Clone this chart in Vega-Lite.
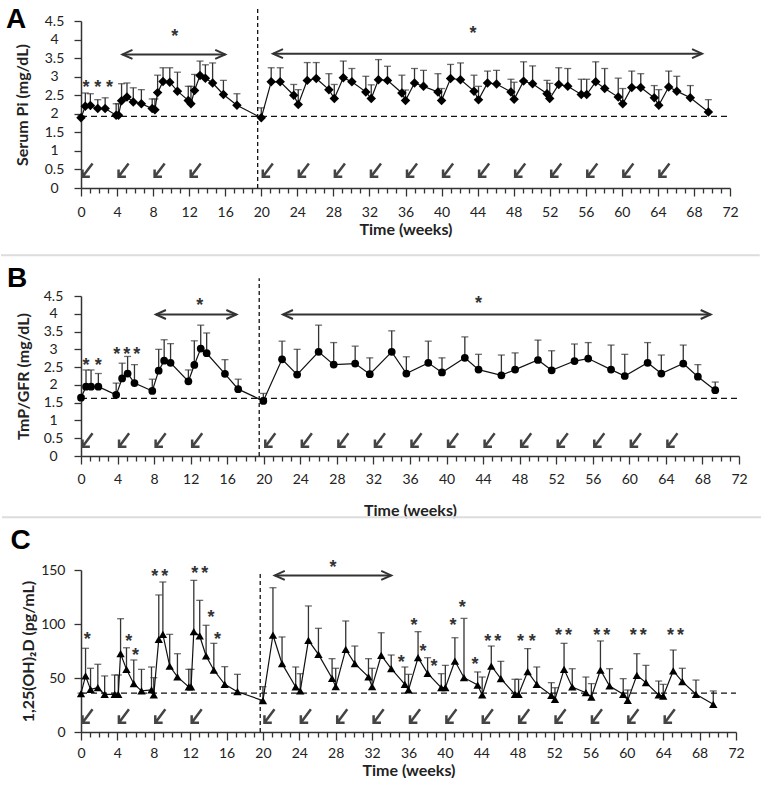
{
  "$schema": "https://vega.github.io/schema/vega-lite/v6.json",
  "padding": {"top": 6, "left": 0, "right": 0, "bottom": 0},
  "background": "white",
  "spacing": 8,
  "datasets": {
    "A": [
      {"w":0,"v":1.89,"e":1.95},{"w":0.48,"v":2.2,"e":2.56},{"w":1.04,"v":2.22,"e":2.54},{"w":1.86,"v":2.14,"e":2.38},{"w":2.68,"v":2.14,"e":2.43},
      {"w":3.9,"v":1.96,"e":2.27},{"w":4.16,"v":1.96,"e":2.27},{"w":4.5,"v":2.35,"e":2.81},{"w":5.1,"v":2.45,"e":2.83},{"w":5.8,"v":2.32,"e":2.7},
      {"w":6.7,"v":2.27,"e":2.65},{"w":7.9,"v":2.14,"e":2.4},{"w":8.2,"v":2.11,"e":2.4},{"w":8.5,"v":2.57,"e":3.04},{"w":9.1,"v":2.87,"e":3.24},
      {"w":9.85,"v":2.85,"e":3.24},{"w":10.7,"v":2.61,"e":3.12},{"w":11.9,"v":2.36,"e":2.74},{"w":12.2,"v":2.27,"e":2.74},{"w":12.6,"v":2.63,"e":3.06},
      {"w":13.2,"v":3.03,"e":3.42},{"w":13.8,"v":2.96,"e":3.32},{"w":14.6,"v":2.83,"e":3.37},{"w":15.8,"v":2.52,"e":2.9},{"w":17.3,"v":2.23,"e":2.54},
      {"w":20.0,"v":1.89,"e":2.16},{"w":21.1,"v":2.86,"e":3.24},{"w":22.1,"v":2.86,"e":3.24},{"w":23.6,"v":2.5,"e":2.79},{"w":24.1,"v":2.25,"e":2.65},
      {"w":25.1,"v":2.9,"e":3.38},{"w":26.1,"v":2.95,"e":3.38},{"w":27.5,"v":2.65,"e":3.08},{"w":28.1,"v":2.41,"e":2.79},{"w":29.1,"v":2.97,"e":3.42},
      {"w":30.05,"v":2.86,"e":3.22},{"w":31.6,"v":2.59,"e":3.01},{"w":32.2,"v":2.41,"e":2.78},{"w":33.0,"v":2.92,"e":3.46},{"w":34.0,"v":2.9,"e":3.28},
      {"w":35.6,"v":2.56,"e":3.04},{"w":36.0,"v":2.36,"e":2.64},{"w":37.0,"v":2.83,"e":3.22},{"w":38.0,"v":2.74,"e":3.17},{"w":39.6,"v":2.59,"e":3.08},
      {"w":40.0,"v":2.36,"e":2.68},{"w":41.0,"v":2.95,"e":3.33},{"w":42.1,"v":2.92,"e":3.37},{"w":43.6,"v":2.61,"e":3.04},{"w":44.1,"v":2.38,"e":2.74},
      {"w":45.1,"v":2.83,"e":3.15},{"w":46.1,"v":2.8,"e":3.17},{"w":47.7,"v":2.59,"e":2.93},{"w":48.05,"v":2.39,"e":2.85},{"w":49.1,"v":2.88,"e":3.4},
      {"w":50.1,"v":2.81,"e":3.29},{"w":51.7,"v":2.54,"e":2.9},{"w":52.0,"v":2.41,"e":2.82},{"w":53.0,"v":2.79,"e":3.24},{"w":54.0,"v":2.74,"e":3.22},
      {"w":55.5,"v":2.52,"e":2.93},{"w":56.1,"v":2.52,"e":2.93},{"w":57.1,"v":2.86,"e":3.4},{"w":58.1,"v":2.68,"e":3.22},{"w":59.6,"v":2.45,"e":2.96},
      {"w":60.1,"v":2.27,"e":2.68},{"w":61.1,"v":2.71,"e":3.15},{"w":62.1,"v":2.71,"e":3.08},{"w":63.6,"v":2.43,"e":2.76},{"w":64.1,"v":2.23,"e":2.65},
      {"w":65.2,"v":2.72,"e":3.15},{"w":66.1,"v":2.61,"e":3.01},{"w":67.6,"v":2.43,"e":2.76},{"w":69.6,"v":2.05,"e":2.38}
    ],
    "B": [
      {"w":0,"v":1.64,"e":1.68},{"w":0.55,"v":1.95,"e":2.42},{"w":1.1,"v":1.95,"e":2.42},{"w":1.9,"v":1.95,"e":2.32},{"w":3.85,"v":1.72,"e":2.05},
      {"w":4.5,"v":2.18,"e":2.61},{"w":5.1,"v":2.32,"e":2.8},{"w":5.85,"v":2.05,"e":2.57},{"w":7.8,"v":1.83,"e":2.16},{"w":8.5,"v":2.4,"e":3.0},
      {"w":9.1,"v":2.68,"e":3.27},{"w":9.8,"v":2.62,"e":3.16},{"w":11.75,"v":2.1,"e":2.42},{"w":12.4,"v":2.56,"e":3.24},{"w":13.1,"v":3.02,"e":3.68},
      {"w":13.75,"v":2.89,"e":3.46},{"w":15.75,"v":2.31,"e":2.71},{"w":17.2,"v":1.88,"e":2.16},{"w":19.95,"v":1.55,"e":1.76},{"w":22.0,"v":2.72,"e":3.23},
      {"w":23.65,"v":2.29,"e":3.0},{"w":26.0,"v":2.93,"e":3.68},{"w":27.65,"v":2.57,"e":3.19},{"w":30.0,"v":2.6,"e":3.09},{"w":31.6,"v":2.3,"e":2.76},
      {"w":34.0,"v":2.93,"e":3.52},{"w":35.6,"v":2.32,"e":2.79},{"w":38.0,"v":2.62,"e":3.23},{"w":39.5,"v":2.35,"e":2.76},{"w":42.0,"v":2.76,"e":3.35},
      {"w":43.5,"v":2.43,"e":2.86},{"w":46.0,"v":2.27,"e":2.84},{"w":47.5,"v":2.43,"e":2.9},{"w":50.0,"v":2.7,"e":3.26},{"w":51.5,"v":2.41,"e":2.96},
      {"w":54.0,"v":2.67,"e":3.15},{"w":55.5,"v":2.74,"e":3.19},{"w":58.0,"v":2.43,"e":3.12},{"w":59.5,"v":2.25,"e":2.86},{"w":62.0,"v":2.62,"e":3.19},
      {"w":63.5,"v":2.32,"e":2.84},{"w":65.9,"v":2.6,"e":3.12},{"w":67.5,"v":2.23,"e":2.57},{"w":69.4,"v":1.85,"e":2.08}
    ],
    "C": [
      {"w":0,"v":35.5,"e":36},{"w":0.5,"v":51.9,"e":77.5},{"w":1.05,"v":39.5,"e":59},{"w":1.85,"v":41,"e":62.7},{"w":2.6,"v":34.9,"e":51.9},
      {"w":3.7,"v":34.9,"e":52.8},{"w":4.1,"v":34.9,"e":52.8},{"w":4.35,"v":72.5,"e":104.9},{"w":5.0,"v":58,"e":78},{"w":5.8,"v":44.7,"e":66.7},
      {"w":6.65,"v":38,"e":58},{"w":7.75,"v":38.9,"e":60.2},{"w":8.0,"v":34.3,"e":50.3},{"w":8.55,"v":85.8,"e":126.9},{"w":9.0,"v":90.4,"e":138.9},
      {"w":9.75,"v":61,"e":90.4},{"w":10.6,"v":51,"e":72.5},{"w":11.85,"v":41.7,"e":58},{"w":12.1,"v":41.7,"e":58},{"w":12.4,"v":92.9,"e":140.4},
      {"w":13.05,"v":88.9,"e":121.9},{"w":13.75,"v":70.4,"e":98.8},{"w":14.6,"v":57.4,"e":82.1},{"w":15.8,"v":44.1,"e":60.5},{"w":17.2,"v":37.3,"e":53.4},
      {"w":20.0,"v":29,"e":42},{"w":21.1,"v":89.8,"e":133.6},{"w":22.1,"v":63.3,"e":88},{"w":23.6,"v":41.7,"e":60.2},{"w":24.1,"v":38,"e":54},
      {"w":25.0,"v":84.9,"e":116.7},{"w":26.1,"v":71.9,"e":96},{"w":27.6,"v":49.7,"e":67.9},{"w":28.0,"v":42,"e":59},{"w":29.1,"v":76.5,"e":102.8},
      {"w":30.1,"v":63.3,"e":79.6},{"w":31.6,"v":51,"e":67.9},{"w":32.0,"v":42,"e":59},{"w":33.0,"v":71,"e":91.9},{"w":34.1,"v":58.6,"e":71.3},
      {"w":35.6,"v":44.1,"e":60.2},{"w":36.0,"v":38.9,"e":53.4},{"w":37.05,"v":68.8,"e":92.9},{"w":38.1,"v":54.3,"e":68.8},{"w":39.6,"v":41,"e":54},
      {"w":40.05,"v":41,"e":61.7},{"w":41.1,"v":65.7,"e":87.3},{"w":42.1,"v":50.3,"e":105.2},{"w":43.6,"v":43.5,"e":55.6},{"w":44.1,"v":34.3,"e":50.9},
      {"w":45.1,"v":61.1,"e":79.6},{"w":46.15,"v":49.4,"e":65.4},{"w":47.7,"v":34.9,"e":48.8},{"w":48.1,"v":34.9,"e":48.8},{"w":49.1,"v":55.9,"e":77.2},
      {"w":50.1,"v":44.1,"e":60.2},{"w":51.7,"v":34,"e":45.7},{"w":52.1,"v":30.2,"e":41},{"w":53.1,"v":58,"e":82.1},{"w":54.0,"v":41.7,"e":58.6},
      {"w":55.5,"v":36.4,"e":50.9},{"w":56.1,"v":32.4,"e":44.8},{"w":57.1,"v":57.4,"e":84.3},{"w":58.1,"v":42.6,"e":58.6},{"w":59.6,"v":34.9,"e":49.4},
      {"w":60.1,"v":29.3,"e":38.9},{"w":61.1,"v":52.5,"e":72.5},{"w":62.1,"v":45.7,"e":61.7},{"w":63.5,"v":34.3,"e":47.2},{"w":64.0,"v":33.3,"e":44.1},
      {"w":65.1,"v":56.5,"e":75.9},{"w":66.1,"v":46.6,"e":59},{"w":67.6,"v":34.9,"e":48.1},{"w":69.5,"v":25.6,"e":38}
    ],
    "starA": [{"w":0.56,"v":2.81},{"w":1.86,"v":2.81},{"w":3.15,"v":2.81},{"w":10.4,"v":4.17},{"w":43.5,"v":4.27}],
    "starB": [{"w":0.55,"v":2.65},{"w":1.9,"v":2.65},{"w":3.9,"v":2.96},{"w":5.0,"v":2.96},{"w":6.1,"v":2.96},{"w":13.0,"v":4.32},{"w":43.5,"v":4.4}],
    "starC": [
      {"w":0.68,"v":88.9},{"w":5.25,"v":86.7},{"w":6.0,"v":74},{"w":8.1,"v":147},{"w":9.2,"v":147},{"w":12.5,"v":149.7},{"w":13.6,"v":149.7},
      {"w":14.3,"v":109.5},{"w":15.0,"v":88.9},{"w":27.7,"v":155.9},{"w":35.2,"v":67.3},{"w":36.6,"v":101.9},{"w":37.6,"v":77.5},{"w":38.8,"v":64.2},
      {"w":40.9,"v":101.9},{"w":41.9,"v":118.2},{"w":43.3,"v":65.7},{"w":44.7,"v":87.3},{"w":45.8,"v":87.3},{"w":48.3,"v":87.3},{"w":49.6,"v":87.3},
      {"w":52.5,"v":92.6},{"w":53.6,"v":92.6},{"w":56.7,"v":92.6},{"w":57.8,"v":92.6},{"w":60.7,"v":92.6},{"w":61.8,"v":92.6},{"w":64.8,"v":92.6},{"w":65.9,"v":92.6}
    ],
    "arrA": [{"a":4.6,"b":16.0,"y":3.6},{"a":21.3,"b":68.9,"y":3.62}],
    "arrB": [{"a":8.2,"b":17.0,"y":3.98},{"a":22.1,"b":68.9,"y":3.98}],
    "arrC": [{"a":21.3,"b":34.1,"y":145}],
    "inj": [{"w":0},{"w":4},{"w":8},{"w":12},{"w":20},{"w":24},{"w":28},{"w":32},{"w":36},{"w":40},{"w":44},{"w":48},{"w":52},{"w":56},{"w":60},{"w":64}]
  },
  "config": {
    "view": {"stroke": null},
    "axis": {"labelFont": "Lato", "labelFontSize": 14, "labelColor": "#222", "titleFont": "Lato", "titleFontSize": 16, "titleFontWeight": "bold", "titleColor": "#222", "domainColor": "#333", "tickColor": "#333", "grid": false, "domainWidth": 1.5, "tickWidth": 1.3, "labelOverlap": false, "labelFlush": false, "tickCount": 200}
  },
  "vconcat": [
    {
      "width": 649, "height": 167,
      "layer": [
        {"data": {"name": "A"}, "mark": {"type": "rule", "color": "#333", "strokeWidth": 1.3},
         "encoding": {
           "x": {"field": "w", "type": "quantitative", "scale": {"domain": [0, 72], "nice": false},
                 "axis": {"title": "Time (weeks)", "tickCount": 200, "format": "~g", "values": [0,1,2,3,4,5,6,7,8,9,10,11,12,13,14,15,16,17,18,19,20,21,22,23,24,25,26,27,28,29,30,31,32,33,34,35,36,37,38,39,40,41,42,43,44,45,46,47,48,49,50,51,52,53,54,55,56,57,58,59,60,61,62,63,64,65,66,67,68,69,70,71,72],
                          "labelOverlap": false, "labelExpr": "datum.value % 4 === 0 ? datum.label : ''", "tickSize": {"condition": {"test": "datum.value % 4 === 0", "value": 8}, "value": 5}, "labelPadding": 9, "titlePadding": 2}},
           "y": {"field": "v", "type": "quantitative", "scale": {"domain": [0, 4.5], "nice": false},
                 "axis": {"title": "Serum Pi (mg/dL)", "tickCount": 200, "values": [0,0.5,1,1.5,2,2.5,3,3.5,4,4.5], "labelOverlap": false, "format": "~g", "labelAlign": "center", "tickSize": 7, "labelPadding": 20, "titlePadding": 14}},
           "y2": {"field": "e"}}},
        {"data": {"values": [{}]}, "mark": {"type": "rule", "color": "#dcdcdc", "strokeWidth": 2},
         "encoding": {"x": {"datum": -8.875}, "x2": {"datum": 75.3}, "y": {"datum": -1.81}}},
        {"data": {"values": [{}]}, "mark": {"type": "text", "text": "A", "font": "Liberation Sans", "fontSize": 28, "fontWeight": "bold", "color": "#000", "align": "left", "baseline": "alphabetic"},
         "encoding": {"x": {"datum": -8.32}, "y": {"datum": 4.3}}},
        {"data": {"name": "A"}, "mark": {"type": "tick", "orient": "horizontal", "size": 7, "thickness": 1.3, "color": "#333"},
         "encoding": {"x": {"field": "w", "type": "quantitative"}, "y": {"field": "e", "type": "quantitative"}}},
        {"data": {"values": [{}]}, "mark": {"type": "rule", "strokeDash": [6, 4], "color": "#111", "strokeWidth": 1.3},
         "encoding": {"x": {"datum": 0}, "x2": {"datum": 72}, "y": {"datum": 1.93}}},
        {"data": {"values": [{}]}, "mark": {"type": "rule", "strokeDash": [4, 3], "color": "#111", "strokeWidth": 1.3},
         "encoding": {"x": {"datum": 19.6}, "y": {"datum": 0}, "y2": {"datum": 4.85}}},
        {"data": {"name": "A"}, "mark": {"type": "line", "color": "#111", "strokeWidth": 1.2},
         "encoding": {"x": {"field": "w", "type": "quantitative"}, "y": {"field": "v", "type": "quantitative"}}},
        {"data": {"name": "A"}, "mark": {"type": "point", "shape": "diamond", "filled": true, "size": 90, "color": "#000", "opacity": 1},
         "encoding": {"x": {"field": "w", "type": "quantitative"}, "y": {"field": "v", "type": "quantitative"}}},
        {"data": {"name": "arrA"}, "mark": {"type": "rule", "color": "#333", "strokeWidth": 2},
         "encoding": {"x": {"field": "a", "type": "quantitative"}, "x2": {"field": "b"}, "y": {"field": "y", "type": "quantitative"}}},
        {"data": {"name": "arrA"}, "mark": {"type": "point", "shape": "M 1 -0.45 L 0 0 L 1 0.45", "size": 400, "color": "#333", "strokeWidth": 2, "opacity": 1},
         "encoding": {"x": {"field": "a", "type": "quantitative"}, "y": {"field": "y", "type": "quantitative"}}},
        {"data": {"name": "arrA"}, "mark": {"type": "point", "shape": "M -1 -0.45 L 0 0 L -1 0.45", "size": 400, "color": "#333", "strokeWidth": 2, "opacity": 1},
         "encoding": {"x": {"field": "b", "type": "quantitative"}, "y": {"field": "y", "type": "quantitative"}}},
        {"data": {"name": "starA"}, "mark": {"type": "text", "text": "*", "font": "Liberation Sans", "fontSize": 18, "fontWeight": "bold", "color": "#333", "baseline": "middle", "dy": 4},
         "encoding": {"x": {"field": "w", "type": "quantitative"}, "y": {"field": "v", "type": "quantitative"}}},
        {"data": {"name": "inj"}, "mark": {"type": "point", "shape": "M 0.75 -1 L 0 0 M 0 -0.55 L 0 0 L 0.55 0", "size": 718, "color": "#444", "strokeWidth": 2.5, "opacity": 1, "xOffset": 1.5},
         "encoding": {"x": {"field": "w", "type": "quantitative"}, "y": {"datum": 0.3}}}
      ]
    },
    {
      "width": 658, "height": 160,
      "layer": [
        {"data": {"name": "B"}, "mark": {"type": "rule", "color": "#333", "strokeWidth": 1.3},
         "encoding": {
           "x": {"field": "w", "type": "quantitative", "scale": {"domain": [0, 72], "nice": false},
                 "axis": {"title": "Time (weeks)", "tickCount": 200, "format": "~g", "values": [0,1,2,3,4,5,6,7,8,9,10,11,12,13,14,15,16,17,18,19,20,21,22,23,24,25,26,27,28,29,30,31,32,33,34,35,36,37,38,39,40,41,42,43,44,45,46,47,48,49,50,51,52,53,54,55,56,57,58,59,60,61,62,63,64,65,66,67,68,69,70,71,72],
                          "labelOverlap": false, "labelExpr": "datum.value % 4 === 0 ? datum.label : ''", "tickSize": {"condition": {"test": "datum.value % 4 === 0", "value": 8}, "value": 5}, "labelPadding": 8, "titlePadding": 16}},
           "y": {"field": "v", "type": "quantitative", "scale": {"domain": [0, 4.5], "nice": false},
                 "axis": {"title": "TmP/GFR (mg/dL)", "tickCount": 200, "values": [0,0.5,1,1.5,2,2.5,3,3.5,4,4.5], "labelOverlap": false, "format": "~g", "labelAlign": "center", "tickSize": 7, "labelPadding": 21, "titlePadding": 12}},
           "y2": {"field": "e"}}},
        {"data": {"values": [{}]}, "mark": {"type": "rule", "color": "#dcdcdc", "strokeWidth": 2},
         "encoding": {"x": {"datum": -8.64}, "x2": {"datum": 74.4}, "y": {"datum": -1.72}}},
        {"data": {"values": [{}]}, "mark": {"type": "text", "text": "B", "font": "Liberation Sans", "fontSize": 28, "fontWeight": "bold", "color": "#000", "align": "left", "baseline": "alphabetic"},
         "encoding": {"x": {"datum": -8.1}, "y": {"datum": 4.75}}},
        {"data": {"name": "B"}, "mark": {"type": "tick", "orient": "horizontal", "size": 7, "thickness": 1.3, "color": "#333"},
         "encoding": {"x": {"field": "w", "type": "quantitative"}, "y": {"field": "e", "type": "quantitative"}}},
        {"data": {"values": [{}]}, "mark": {"type": "rule", "strokeDash": [6, 4], "color": "#111", "strokeWidth": 1.3},
         "encoding": {"x": {"datum": 0}, "x2": {"datum": 72}, "y": {"datum": 1.62}}},
        {"data": {"values": [{}]}, "mark": {"type": "rule", "strokeDash": [4, 3], "color": "#111", "strokeWidth": 1.3},
         "encoding": {"x": {"datum": 19.5}, "y": {"datum": 0}, "y2": {"datum": 5.0}}},
        {"data": {"name": "B"}, "mark": {"type": "line", "color": "#111", "strokeWidth": 1.2},
         "encoding": {"x": {"field": "w", "type": "quantitative"}, "y": {"field": "v", "type": "quantitative"}}},
        {"data": {"name": "B"}, "mark": {"type": "point", "shape": "circle", "filled": true, "size": 60, "color": "#000", "opacity": 1},
         "encoding": {"x": {"field": "w", "type": "quantitative"}, "y": {"field": "v", "type": "quantitative"}}},
        {"data": {"name": "arrB"}, "mark": {"type": "rule", "color": "#333", "strokeWidth": 2},
         "encoding": {"x": {"field": "a", "type": "quantitative"}, "x2": {"field": "b"}, "y": {"field": "y", "type": "quantitative"}}},
        {"data": {"name": "arrB"}, "mark": {"type": "point", "shape": "M 1 -0.45 L 0 0 L 1 0.45", "size": 400, "color": "#333", "strokeWidth": 2, "opacity": 1},
         "encoding": {"x": {"field": "a", "type": "quantitative"}, "y": {"field": "y", "type": "quantitative"}}},
        {"data": {"name": "arrB"}, "mark": {"type": "point", "shape": "M -1 -0.45 L 0 0 L -1 0.45", "size": 400, "color": "#333", "strokeWidth": 2, "opacity": 1},
         "encoding": {"x": {"field": "b", "type": "quantitative"}, "y": {"field": "y", "type": "quantitative"}}},
        {"data": {"name": "starB"}, "mark": {"type": "text", "text": "*", "font": "Liberation Sans", "fontSize": 18, "fontWeight": "bold", "color": "#333", "baseline": "middle", "dy": 4},
         "encoding": {"x": {"field": "w", "type": "quantitative"}, "y": {"field": "v", "type": "quantitative"}}},
        {"data": {"name": "inj"}, "mark": {"type": "point", "shape": "M 0.75 -1 L 0 0 M 0 -0.55 L 0 0 L 0.55 0", "size": 718, "color": "#444", "strokeWidth": 2.5, "opacity": 1, "xOffset": 1.5},
         "encoding": {"x": {"field": "w", "type": "quantitative"}, "y": {"datum": 0.26}}}
      ]
    },
    {
      "width": 655, "height": 162,
      "layer": [
        {"data": {"name": "C"}, "mark": {"type": "rule", "color": "#333", "strokeWidth": 1.3},
         "encoding": {
           "x": {"field": "w", "type": "quantitative", "scale": {"domain": [0, 72], "nice": false},
                 "axis": {"title": "Time (weeks)", "tickCount": 200, "format": "~g", "values": [0,1,2,3,4,5,6,7,8,9,10,11,12,13,14,15,16,17,18,19,20,21,22,23,24,25,26,27,28,29,30,31,32,33,34,35,36,37,38,39,40,41,42,43,44,45,46,47,48,49,50,51,52,53,54,55,56,57,58,59,60,61,62,63,64,65,66,67,68,69,70,71,72],
                          "labelOverlap": false, "labelExpr": "datum.value % 4 === 0 ? datum.label : ''", "tickSize": {"condition": {"test": "datum.value % 4 === 0", "value": 8}, "value": 5}, "labelPadding": 6, "titlePadding": 2}},
           "y": {"field": "v", "type": "quantitative", "scale": {"domain": [0, 150], "nice": false},
                 "axis": {"title": "1,25(OH)₂D (pg/mL)", "tickCount": 200, "values": [0, 50, 100, 150], "labelOverlap": false, "tickSize": 7, "labelPadding": 9, "titlePadding": 4}},
           "y2": {"field": "e"}}},
        {"data": {"values": [{}]}, "mark": {"type": "text", "text": "C", "font": "Liberation Sans", "fontSize": 28, "fontWeight": "bold", "color": "#000", "align": "left", "baseline": "alphabetic"},
         "encoding": {"x": {"datum": -7.75}, "y": {"datum": 169.4}}},
        {"data": {"name": "C"}, "mark": {"type": "tick", "orient": "horizontal", "size": 7, "thickness": 1.3, "color": "#333"},
         "encoding": {"x": {"field": "w", "type": "quantitative"}, "y": {"field": "e", "type": "quantitative"}}},
        {"data": {"values": [{}]}, "mark": {"type": "rule", "strokeDash": [6, 4], "color": "#111", "strokeWidth": 1.3},
         "encoding": {"x": {"datum": 0}, "x2": {"datum": 72}, "y": {"datum": 36}}},
        {"data": {"values": [{}]}, "mark": {"type": "rule", "strokeDash": [4, 3], "color": "#111", "strokeWidth": 1.3},
         "encoding": {"x": {"datum": 19.7}, "y": {"datum": 0}, "y2": {"datum": 147.5}}},
        {"data": {"name": "C"}, "mark": {"type": "line", "color": "#111", "strokeWidth": 1.2},
         "encoding": {"x": {"field": "w", "type": "quantitative"}, "y": {"field": "v", "type": "quantitative"}}},
        {"data": {"name": "C"}, "mark": {"type": "point", "shape": "triangle-up", "filled": true, "size": 70, "color": "#000", "opacity": 1},
         "encoding": {"x": {"field": "w", "type": "quantitative"}, "y": {"field": "v", "type": "quantitative"}}},
        {"data": {"name": "arrC"}, "mark": {"type": "rule", "color": "#333", "strokeWidth": 2},
         "encoding": {"x": {"field": "a", "type": "quantitative"}, "x2": {"field": "b"}, "y": {"field": "y", "type": "quantitative"}}},
        {"data": {"name": "arrC"}, "mark": {"type": "point", "shape": "M 1 -0.45 L 0 0 L 1 0.45", "size": 400, "color": "#333", "strokeWidth": 2, "opacity": 1},
         "encoding": {"x": {"field": "a", "type": "quantitative"}, "y": {"field": "y", "type": "quantitative"}}},
        {"data": {"name": "arrC"}, "mark": {"type": "point", "shape": "M -1 -0.45 L 0 0 L -1 0.45", "size": 400, "color": "#333", "strokeWidth": 2, "opacity": 1},
         "encoding": {"x": {"field": "b", "type": "quantitative"}, "y": {"field": "y", "type": "quantitative"}}},
        {"data": {"name": "starC"}, "mark": {"type": "text", "text": "*", "font": "Liberation Sans", "fontSize": 18, "fontWeight": "bold", "color": "#333", "baseline": "middle", "dy": 4},
         "encoding": {"x": {"field": "w", "type": "quantitative"}, "y": {"field": "v", "type": "quantitative"}}},
        {"data": {"name": "inj"}, "mark": {"type": "point", "shape": "M 0.75 -1 L 0 0 M 0 -0.55 L 0 0 L 0.55 0", "size": 718, "color": "#444", "strokeWidth": 2.5, "opacity": 1, "xOffset": 1.5},
         "encoding": {"x": {"field": "w", "type": "quantitative"}, "y": {"datum": 8.6}}}
      ]
    }
  ]
}
